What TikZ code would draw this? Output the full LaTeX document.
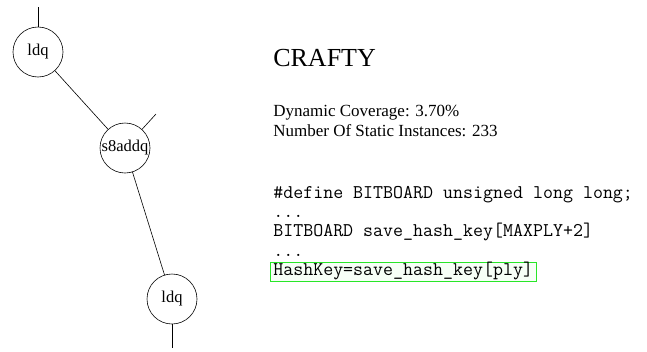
\documentclass[tikz,border=0pt]{standalone}
\usepackage{fontspec}
\setmainfont{Liberation Serif}
\definecolor{boxgreen}{RGB}{40,230,40}
\begin{document}
\begin{tikzpicture}[x=1pt,y=-1pt,line width=0.6pt,
  op/.style={draw,circle,minimum size=50pt,inner sep=0pt,font=\fontsize{16.5}{19}\selectfont},
  txt/.style={anchor=base west,inner sep=0pt},
  code/.style={txt,font=\fontsize{19.4}{21}\ttfamily}]
\useasboundingbox (0,0) rectangle (647,351);
% dependence chain
\node[op] (ldqa) at (38,52) {ldq};
\node[op] (addq) at (125,148) {s8addq};
\node[op] (ldqb) at (172,299) {ldq};
\coordinate (top) at (38,7);
\coordinate (side) at (156,114);
\coordinate (bot) at (172,348);
\draw (top) -- (ldqa);
\draw (ldqa) -- (addq);
\draw (addq) -- (side);
\draw (addq) -- (ldqb);
\draw (ldqb) -- (bot);
% benchmark info
\node[txt,font=\fontsize{26}{30}\selectfont] (name) at (273,66) {CRAFTY};
\node[txt,font=\fontsize{17}{20}\selectfont] (cov) at (273,116) {Dynamic Coverage: 3.70\%};
\node[txt,font=\fontsize{17}{20}\selectfont] (inst) at (273,136) {Number Of Static Instances: 233};
% source lines
\node[code] (src1) at (273,198) {\#define BITBOARD unsigned long long;};
\node[code] (src2) at (273,217) {...};
\node[code] (src3) at (273,236) {BITBOARD save\_hash\_key[MAXPLY+2]};
\node[code] (src4) at (273,256) {...};
\node[code,draw=boxgreen,fill=green!3,inner xsep=3pt,text height=13pt,text depth=6pt] (src5) at (270,275) {HashKey=save\_hash\_key[ply]};
\end{tikzpicture}
\end{document}
